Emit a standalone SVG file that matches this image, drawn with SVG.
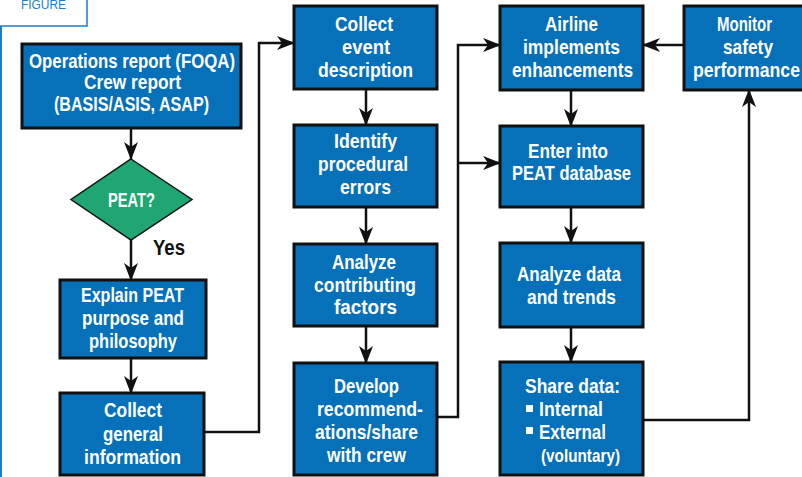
<svg xmlns="http://www.w3.org/2000/svg" width="802" height="477" viewBox="0 0 802 477">
<defs>
<style>
.box{fill:#0670b9;stroke:#111;stroke-width:3}
.dia{fill:#1fa673;stroke:#111;stroke-width:1.5}
.t{font-family:"Liberation Sans",Arial,sans-serif;font-weight:bold;font-size:21px;fill:#fff}
.k{fill:#111}
.c{fill:none;stroke:#111;stroke-width:2.5}
.fig{font-family:"Liberation Sans",Arial,sans-serif;font-size:12px;fill:#1a7fc6}
</style>
<marker id="ah" markerUnits="userSpaceOnUse" markerWidth="18" markerHeight="14" refX="17" refY="7" orient="auto">
<path d="M0,0 L18,7 L0,14 L5,7 Z" fill="#111"/>
</marker>
</defs>
<g id="frame">
<rect x="-1" y="-2" width="88" height="28" fill="#fff" stroke="#1a7fc6" stroke-width="1.5"/>
<line x1="1" y1="26" x2="1" y2="477" stroke="#1a7fc6" stroke-width="2"/>
<text class="fig" x="21" y="9" textLength="45" lengthAdjust="spacingAndGlyphs">FIGURE</text>
</g>
<g id="connectors">
<path class="c" d="M131,128 V159" marker-end="url(#ah)"/>
<path class="c" d="M131,240 V280" marker-end="url(#ah)"/>
<path class="c" d="M131,358 V393" marker-end="url(#ah)"/>
<path class="c" d="M204,432 H259 V43 H294" marker-end="url(#ah)"/>
<path class="c" d="M366,89 V125" marker-end="url(#ah)"/>
<path class="c" d="M366,207 V244" marker-end="url(#ah)"/>
<path class="c" d="M366,326 V363" marker-end="url(#ah)"/>
<path class="c" d="M438,417 H458 V45 H500" marker-end="url(#ah)"/>
<path class="c" d="M458,163 H500" marker-end="url(#ah)"/>
<path class="c" d="M684,45 H643" marker-end="url(#ah)"/>
<path class="c" d="M571,90 V126" marker-end="url(#ah)"/>
<path class="c" d="M571,207 V243" marker-end="url(#ah)"/>
<path class="c" d="M571,327 V362" marker-end="url(#ah)"/>
<path class="c" d="M643,420 H749 V90" marker-end="url(#ah)"/>
</g>
<g id="n-ops">
<rect class="box" x="22" y="44" width="219" height="84"/>
<text class="t" x="29" y="68" textLength="206" lengthAdjust="spacingAndGlyphs">Operations report (FOQA)</text>
<text class="t" x="84" y="89" textLength="97" lengthAdjust="spacingAndGlyphs">Crew report</text>
<text class="t" x="54" y="111" textLength="155" lengthAdjust="spacingAndGlyphs">(BASIS/ASIS, ASAP)</text>
</g>
<g id="n-peat">
<polygon class="dia" points="131,159 192,199.5 131,240 71,199.5"/>
<text class="t" x="108" y="207" textLength="47" lengthAdjust="spacingAndGlyphs">PEAT?</text>
</g>
<text id="yes" class="t k" x="153" y="255" textLength="32" lengthAdjust="spacingAndGlyphs" style="font-size:22px">Yes</text>
<g id="n-explain">
<rect class="box" x="60" y="280" width="146" height="78"/>
<text class="t" x="81" y="302" textLength="103" lengthAdjust="spacingAndGlyphs">Explain PEAT</text>
<text class="t" x="82" y="325" textLength="102" lengthAdjust="spacingAndGlyphs">purpose and</text>
<text class="t" x="89" y="348" textLength="88" lengthAdjust="spacingAndGlyphs">philosophy</text>
</g>
<g id="n-general">
<rect class="box" x="60" y="393" width="144" height="82"/>
<text class="t" x="104" y="417" textLength="58" lengthAdjust="spacingAndGlyphs">Collect</text>
<text class="t" x="103" y="441" textLength="60" lengthAdjust="spacingAndGlyphs">general</text>
<text class="t" x="84" y="464" textLength="97" lengthAdjust="spacingAndGlyphs">information</text>
</g>
<g id="n-event">
<rect class="box" x="294" y="6" width="143" height="83"/>
<text class="t" x="335" y="31" textLength="58" lengthAdjust="spacingAndGlyphs">Collect</text>
<text class="t" x="342" y="54" textLength="48" lengthAdjust="spacingAndGlyphs">event</text>
<text class="t" x="318" y="77" textLength="95" lengthAdjust="spacingAndGlyphs">description</text>
</g>
<g id="n-identify">
<rect class="box" x="294" y="125" width="143" height="82"/>
<text class="t" x="334" y="148" textLength="63" lengthAdjust="spacingAndGlyphs">Identify</text>
<text class="t" x="318" y="171" textLength="90" lengthAdjust="spacingAndGlyphs">procedural</text>
<text class="t" x="340" y="194" textLength="51" lengthAdjust="spacingAndGlyphs">errors</text>
</g>
<g id="n-analyze">
<rect class="box" x="294" y="244" width="143" height="82"/>
<text class="t" x="332" y="269" textLength="64" lengthAdjust="spacingAndGlyphs">Analyze</text>
<text class="t" x="314" y="292" textLength="102" lengthAdjust="spacingAndGlyphs">contributing</text>
<text class="t" x="334" y="314" textLength="63" lengthAdjust="spacingAndGlyphs">factors</text>
</g>
<g id="n-develop">
<rect class="box" x="294" y="363" width="143" height="112"/>
<text class="t" x="334" y="393" textLength="65" lengthAdjust="spacingAndGlyphs">Develop</text>
<text class="t" x="317" y="416" textLength="106" lengthAdjust="spacingAndGlyphs">recommend-</text>
<text class="t" x="315" y="439" textLength="103" lengthAdjust="spacingAndGlyphs">ations/share</text>
<text class="t" x="327" y="462" textLength="79" lengthAdjust="spacingAndGlyphs">with crew</text>
</g>
<g id="n-airline">
<rect class="box" x="500" y="6" width="143" height="84"/>
<text class="t" x="545" y="31" textLength="53" lengthAdjust="spacingAndGlyphs">Airline</text>
<text class="t" x="523" y="54" textLength="97" lengthAdjust="spacingAndGlyphs">implements</text>
<text class="t" x="512" y="77" textLength="121" lengthAdjust="spacingAndGlyphs">enhancements</text>
</g>
<g id="n-monitor">
<rect class="box" x="684" y="6" width="130" height="84"/>
<text class="t" x="717" y="31" textLength="55" lengthAdjust="spacingAndGlyphs">Monitor</text>
<text class="t" x="723" y="54" textLength="50" lengthAdjust="spacingAndGlyphs">safety</text>
<text class="t" x="693" y="77" textLength="107" lengthAdjust="spacingAndGlyphs">performance</text>
</g>
<g id="n-enter">
<rect class="box" x="500" y="126" width="143" height="81"/>
<text class="t" x="528" y="158" textLength="80" lengthAdjust="spacingAndGlyphs">Enter into</text>
<text class="t" x="512" y="180" textLength="119" lengthAdjust="spacingAndGlyphs">PEAT database</text>
</g>
<g id="n-analyzedata">
<rect class="box" x="500" y="243" width="143" height="84"/>
<text class="t" x="517" y="281" textLength="104" lengthAdjust="spacingAndGlyphs">Analyze data</text>
<text class="t" x="527" y="304" textLength="89" lengthAdjust="spacingAndGlyphs">and trends</text>
</g>
<g id="n-share">
<rect class="box" x="500" y="362" width="143" height="113"/>
<text class="t" x="525" y="393" textLength="95" lengthAdjust="spacingAndGlyphs">Share data:</text>
<rect x="526" y="405" width="7" height="7" fill="#fff"/>
<text class="t" x="539" y="416" textLength="64" lengthAdjust="spacingAndGlyphs">Internal</text>
<rect x="526" y="427" width="7" height="7" fill="#fff"/>
<text class="t" x="539" y="439" textLength="67" lengthAdjust="spacingAndGlyphs">External</text>
<text class="t" x="541" y="462" textLength="79" lengthAdjust="spacingAndGlyphs" style="font-size:18px">(voluntary)</text>
</g>
</svg>
